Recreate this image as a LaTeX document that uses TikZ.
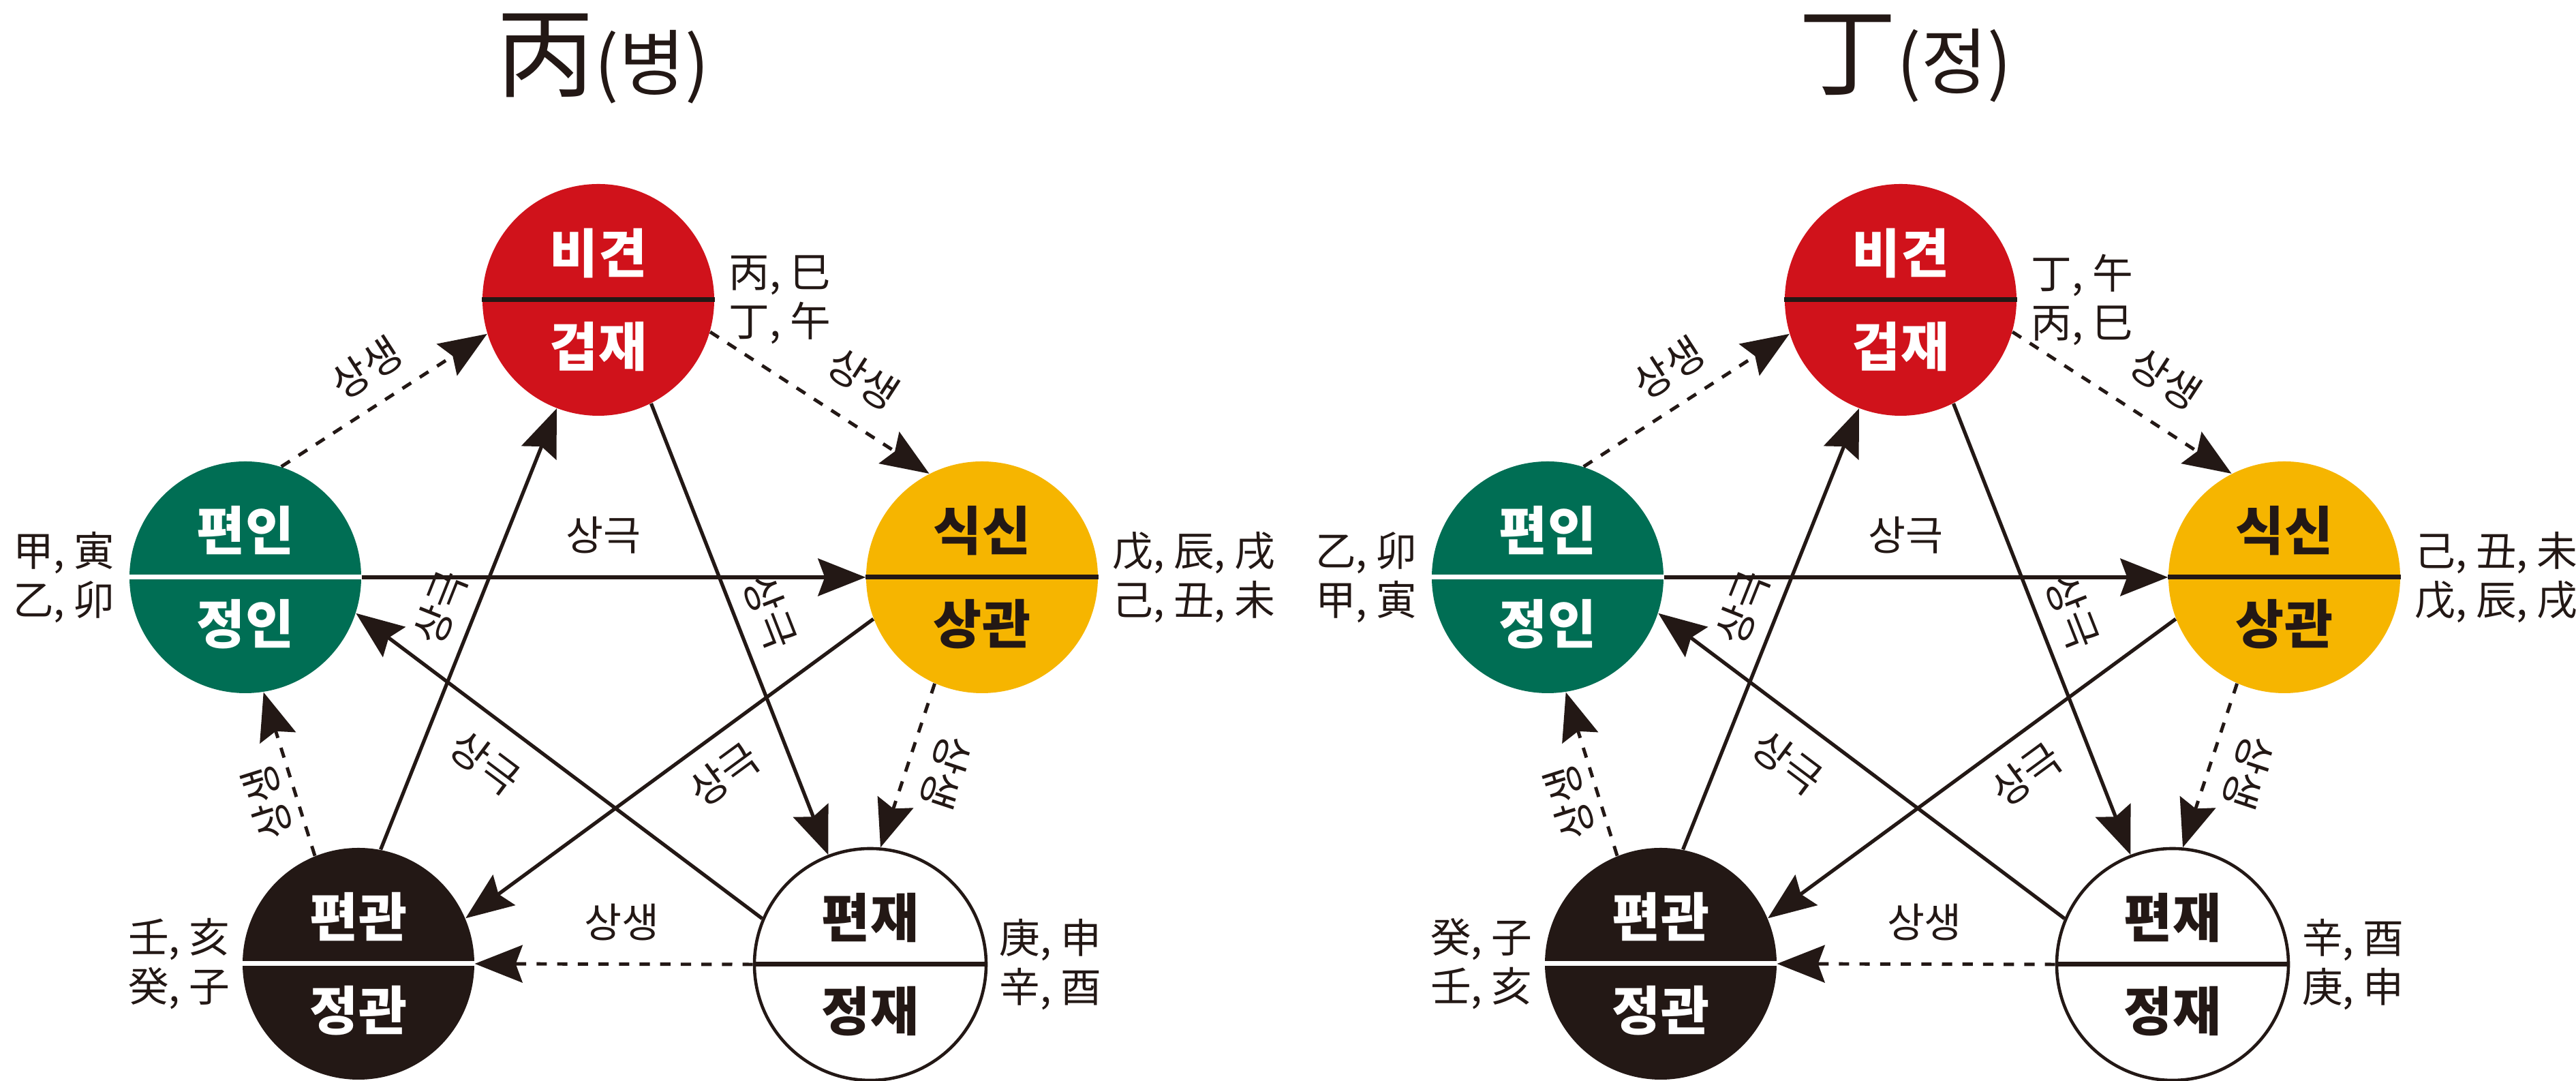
\documentclass[tikz,border=0pt]{standalone}
\usepackage{fontspec}
\setmainfont{Noto Sans CJK KR}
\usetikzlibrary{arrows.meta}

\definecolor{firered}{HTML}{D0121B}
\definecolor{woodgreen}{HTML}{006E54}
\definecolor{earthyellow}{HTML}{F6B500}
\definecolor{inkblack}{HTML}{231815}

% one cycle: prefix, stem, reading, branches (fire, wood, earth, water, metal)
\newcommand{\ohaeng}[8]{%
  % title
  \node[title] (#1title) at (8.85,15.0) {{\fontsize{41}{41}\selectfont #2}{\fontsize{30}{30}\selectfont(#3)}};

  % circles
  \node[element, fill=firered, text=white] (#1hwa) at (8.78,11.46) {비견\\겁재};
  \node[element, fill=woodgreen, text=white] (#1mok) at (3.60,7.39) {편인\\정인};
  \node[element, fill=earthyellow, text=inkblack] (#1to) at (14.41,7.39) {식신\\상관};
  \node[element, fill=inkblack, text=white] (#1su) at (5.26,1.72) {편관\\정관};
  \node[element, fill=white, draw=inkblack, line width=1.3pt, text=inkblack] (#1geum) at (12.77,1.71) {편재\\정재};

  % dividers
  \draw[divider, inkblack] (#1hwa.west) -- (#1hwa.east);
  \draw[divider, white] (#1mok.west) -- (#1mok.east);
  \draw[divider, inkblack] (#1to.west) -- (#1to.east);
  \draw[divider, white] (#1su.west) -- (#1su.east);
  \draw[divider, inkblack] (#1geum.west) -- (#1geum.east);

  % branches
  \node[branch, anchor=west] (#1hwa-ji) at ([xshift=2mm]#1hwa.east) {#4};
  \node[branch, anchor=east] (#1mok-ji) at ([xshift=-2mm]#1mok.west) {#5};
  \node[branch, anchor=west] (#1to-ji) at ([xshift=2mm]#1to.east) {#6};
  \node[branch, anchor=east] (#1su-ji) at ([xshift=-1.7mm]#1su.west) {#7};
  \node[branch, anchor=west] (#1geum-ji) at ([xshift=1.7mm]#1geum.east) {#8};

  % 상생
  \draw[saeng] (#1mok.72) -- node[rel, sloped, pos=.51, above=5pt] (#1saeng-a) {상생} (#1hwa.197);
  \draw[saeng] (#1hwa.-16) -- node[rel, sloped, pos=.59, above=8pt] (#1saeng-b) {상생} (#1to.117);
  \draw[saeng] (#1to.246) -- node[rel, sloped, allow upside down, pos=.47, above=6pt] (#1saeng-c) {상생} (#1geum.85);
  \draw[saeng] (#1geum.west) -- node[rel, pos=.47, above=7pt] (#1saeng-d) {상생} (#1su.east);
  \draw[saeng] (#1su.112) -- node[rel, sloped, allow upside down, pos=.38, above=2pt] (#1saeng-e) {상생} (#1mok.-81);

  % 상극
  \draw[geuk] (#1mok.east) -- node[rel, pos=.48, above=7pt] (#1geuk-a) {상극} (#1to.west);
  \draw[geuk] (#1hwa.-63) -- node[rel, sloped, pos=.49, above=4pt] (#1geuk-b) {상극} (#1geum.111);
  \draw[geuk] (#1to.201) -- node[rel, sloped, pos=.42, below=5pt] (#1geuk-c) {상극} (#1su.23);
  \draw[geuk] (#1geum.157.5) -- node[rel, sloped, pos=.62, below=7pt] (#1geuk-d) {상극} (#1mok.-18);
  \draw[geuk] (#1su.79) -- node[rel, sloped, pos=.52, above=4pt] (#1geuk-e) {상극} (#1hwa.249);
}

\begin{document}
\begin{tikzpicture}[
    element/.style={circle, minimum size=3.4cm, inner sep=0pt, align=center, font=\fontsize{22}{39}\selectfont\bfseries},
    divider/.style={line width=2pt},
    branch/.style={align=left, inner sep=0pt, text=inkblack, font=\fontsize{17}{20.6}\selectfont},
    title/.style={inner sep=0pt, text=inkblack},
    saeng/.style={draw=inkblack, line width=1.4pt, dash pattern=on 4.3pt off 4.3pt, -{Stealth[length=7mm, width=5.5mm, inset=1mm]}},
    geuk/.style={draw=inkblack, line width=1.5pt, -{Stealth[length=7mm, width=5.5mm, inset=1mm]}},
    rel/.style={text=inkblack, inner sep=2pt, font=\fontsize{17}{17}\selectfont}
]
\path[use as bounding box, fill=white] (0,0) rectangle (37.8,15.86);

% 丙
\ohaeng{l}{丙}{병}{丙, 巳\\丁, 午}{甲, 寅\\乙, 卯}{戊, 辰, 戌\\己, 丑, 未}{壬, 亥\\癸, 子}{庚, 申\\辛, 酉}

% 丁
\begin{scope}[xshift=19.11cm]
\ohaeng{r}{丁}{정}{丁, 午\\丙, 巳}{乙, 卯\\甲, 寅}{己, 丑, 未\\戊, 辰, 戌}{癸, 子\\壬, 亥}{辛, 酉\\庚, 申}
\end{scope}
\end{tikzpicture}
\end{document}
